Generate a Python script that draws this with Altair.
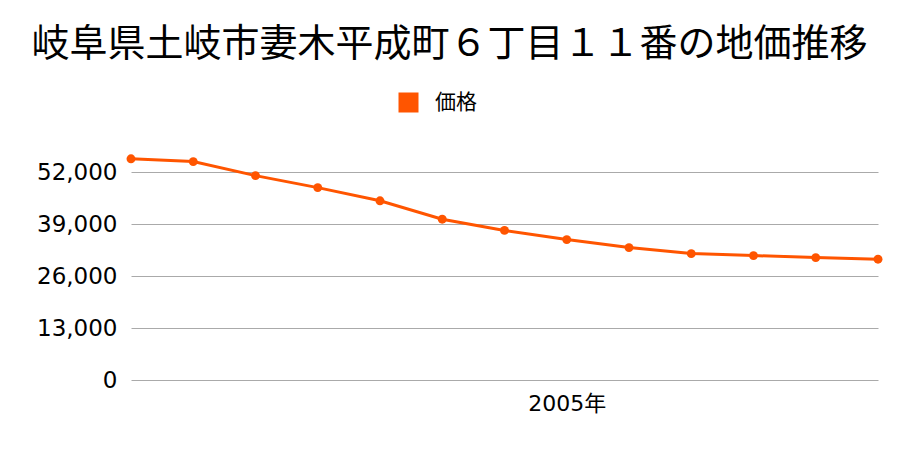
import altair as alt
import pandas as pd

years = [1998, 1999, 2000, 2001, 2002, 2003, 2004, 2005, 2006, 2007, 2008, 2009, 2010]
prices = [55300, 54600, 51100, 48100, 44800, 40200, 37400, 35100, 33100, 31600, 31100, 30600, 30200]
series = ["価格"] * len(years)
y_ticks = [0, 13000, 26000, 39000, 52000]
x_ticks = [2005]

df = pd.DataFrame({"year": years, "price": prices, "series": series})

FONT = "Noto Sans CJK JP"
NUMFONT = "DejaVu Sans, Noto Sans CJK JP"
ORANGE = "#ff5500"

color = alt.Color(
    "series:N",
    scale=alt.Scale(domain=["価格"], range=[ORANGE]),
    legend=alt.Legend(
        title=None,
        orient="none",
        legendX=267,
        legendY=-48,
        symbolType="square",
        symbolSize=400,
        symbolStrokeWidth=0,
        symbolFillColor=ORANGE,
        labelFontSize=21,
        labelFont=FONT,
        labelColor="#000",
        labelOffset=16,
    ),
)

x = alt.X(
    "year:Q",
    scale=alt.Scale(domain=[1998, 2010], nice=False, zero=False),
    axis=alt.Axis(
        values=x_ticks,
        labelExpr="datum.value + '年'",
        title=None,
        grid=False,
        domain=False,
        ticks=False,
        labelFontSize=22,
        labelFont=NUMFONT,
        labelColor="#000",
        labelPadding=13,
    ),
)
y = alt.Y(
    "price:Q",
    scale=alt.Scale(domain=[0, 60000], nice=False),
    axis=alt.Axis(
        values=y_ticks,
        format=",d",
        title=None,
        grid=True,
        gridColor="#aaaaaa",
        gridWidth=1,
        domain=False,
        ticks=False,
        labelFontSize=23,
        labelFont=NUMFONT,
        labelColor="#000",
        labelPadding=14,
    ),
)

base = alt.Chart(df)
line = base.mark_line(color=ORANGE, strokeWidth=3).encode(x=x, y=y, color=color)
pts = base.mark_circle(size=80, opacity=1, color=ORANGE).encode(x=x, y=y, color=color)

chart = (
    alt.layer(line, pts)
    .properties(
        width=747,
        height=240,
        background="white",
        autosize=alt.AutoSizeParams(type="none"),
        padding={"left": 123, "top": 132, "right": 14, "bottom": 62},
        title=alt.TitleParams(
            text="岐阜県土岐市妻木平成町６丁目１１番の地価推移",
            font=FONT,
            fontSize=38,
            fontWeight="normal",
            color="#000",
            anchor="middle",
            dx=-55,
            offset=28,
        ),
    )
    .configure_view(stroke=None, strokeWidth=0)
)

chart.save("out.html", embed_options={"renderer": "svg", "actions": False})
